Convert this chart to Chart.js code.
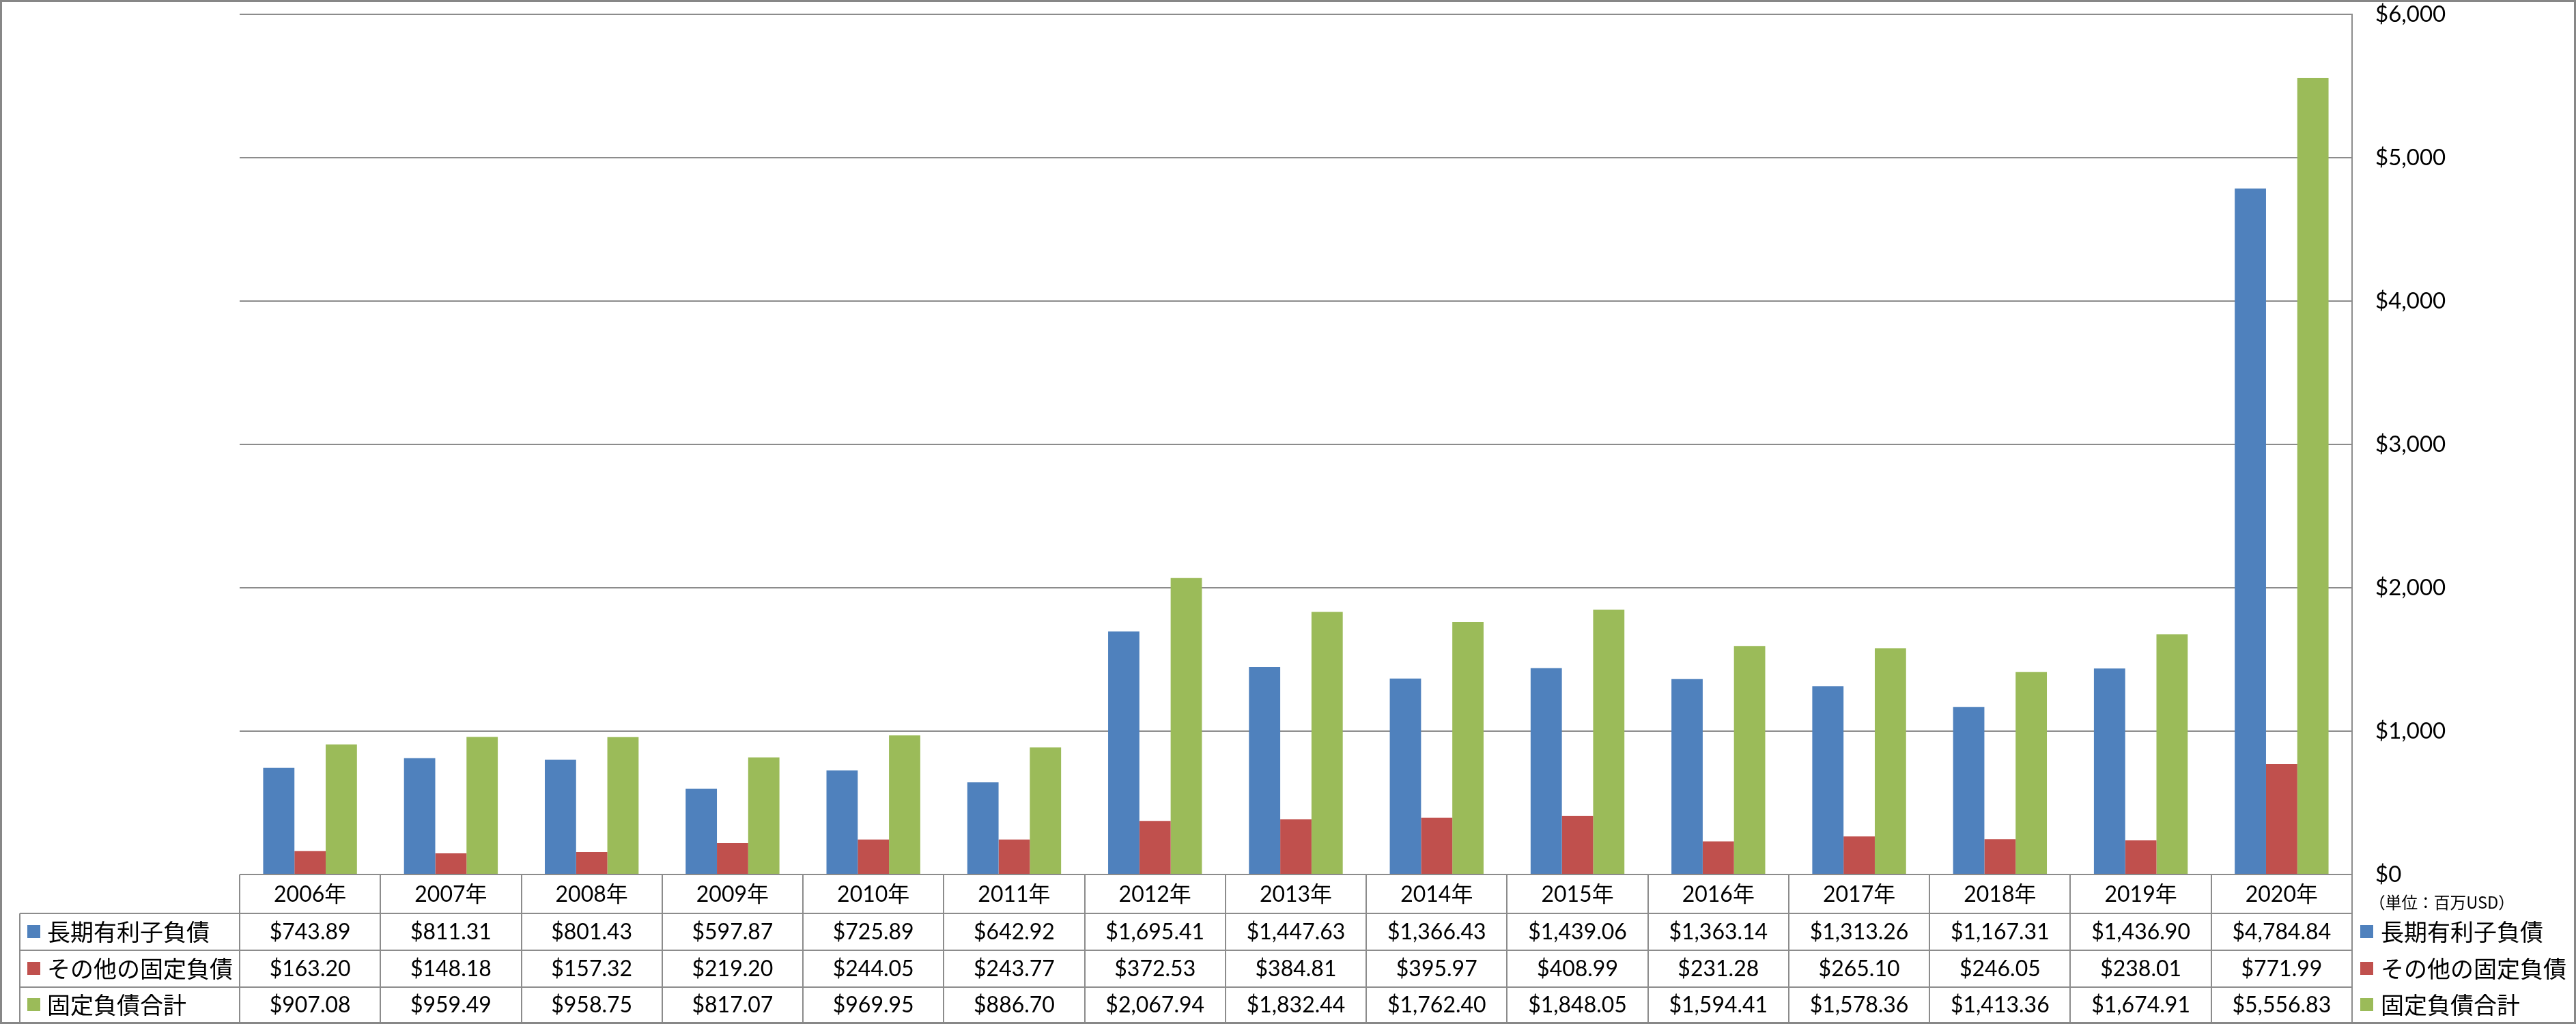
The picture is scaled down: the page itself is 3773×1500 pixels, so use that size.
<!DOCTYPE html>
<html>
<head>
<meta charset="utf-8">
<script src="https://cdn.jsdelivr.net/npm/chart.js@4/dist/chart.umd.min.js"></script>
<style>
  html, body { margin: 0; padding: 0; background: #fff; }
  #wrap { width: 3773px; height: 1500px; }
</style>
</head>
<body>
<div id="wrap"><canvas id="c" width="3773" height="1500"></canvas></div>
<script>
const categories = ['2006年','2007年','2008年','2009年','2010年','2011年','2012年','2013年','2014年','2015年','2016年','2017年','2018年','2019年','2020年'];
const seriesNames = ['長期有利子負債','その他の固定負債','固定負債合計'];
const longTermDebt = [743.89, 811.31, 801.43, 597.87, 725.89, 642.92, 1695.41, 1447.63, 1366.43, 1439.06, 1363.14, 1313.26, 1167.31, 1436.90, 4784.84];
const otherFixedLiab = [163.20, 148.18, 157.32, 219.20, 244.05, 243.77, 372.53, 384.81, 395.97, 408.99, 231.28, 265.10, 246.05, 238.01, 771.99];
const totalFixedLiab = [907.08, 959.49, 958.75, 817.07, 969.95, 886.70, 2067.94, 1832.44, 1762.40, 1848.05, 1594.41, 1578.36, 1413.36, 1674.91, 5556.83];
const yTicks = [0, 1000, 2000, 3000, 4000, 5000, 6000];
const unitLabel = '（単位：百万USD）';

const colors = ['#4F81BD', '#C0504D', '#9BBB59'];
const lineColor = '#8C8C8C';
const numFont = '32px Lato, "Noto Sans CJK JP"';
const jpFont = '34px "Noto Sans CJK JP"';

function fmt(v) {
  return '$' + v.toLocaleString('en-US', {minimumFractionDigits: 2, maximumFractionDigits: 2});
}

const tablePlugin = {
  id: 'tablePlugin',
  beforeDraw(chart) {
    const ctx = chart.ctx;
    ctx.save();
    ctx.fillStyle = '#fff';
    ctx.fillRect(0, 0, chart.width, chart.height);
    ctx.restore();
  },
  afterDraw(chart) {
    const ctx = chart.ctx;
    const ca = chart.chartArea;
    const n = categories.length;
    const colW = (ca.right - ca.left) / n;
    const rowTops = [ca.bottom, ca.bottom + 57, ca.bottom + 111, ca.bottom + 165];
    const tableBottom = 1498;
    const labelLeft = 29;
    const series = [longTermDebt, otherFixedLiab, totalFixedLiab];
    ctx.save();
    ctx.strokeStyle = lineColor;
    ctx.lineWidth = 2;
    ctx.beginPath();
    ctx.moveTo(ca.left, rowTops[0]); ctx.lineTo(ca.right, rowTops[0]);
    for (let r = 1; r < rowTops.length; r++) {
      ctx.moveTo(labelLeft, rowTops[r]); ctx.lineTo(ca.right, rowTops[r]);
    }
    ctx.moveTo(labelLeft, rowTops[1]); ctx.lineTo(labelLeft, tableBottom);
    for (let i = 0; i <= n; i++) {
      const x = Math.round(ca.left + i * colW);
      ctx.moveTo(x, rowTops[0]); ctx.lineTo(x, tableBottom);
    }
    ctx.moveTo(ca.right, ca.top); ctx.lineTo(ca.right, tableBottom);
    ctx.stroke();

    ctx.fillStyle = '#000';
    ctx.textBaseline = 'middle';
    ctx.textAlign = 'center';
    ctx.font = numFont;
    const xs = chart.scales.x;
    for (let i = 0; i < n; i++) {
      const cx = xs.getPixelForValue(i);
      ctx.fillText(categories[i], cx, (rowTops[0] + rowTops[1]) / 2 + 1);
    }
    for (let s = 0; s < 3; s++) {
      const top = rowTops[s + 1];
      const bot = s + 2 < rowTops.length ? rowTops[s + 2] : tableBottom;
      const cy = (top + bot) / 2;
      ctx.textAlign = 'center';
      ctx.font = numFont;
      ctx.fillStyle = '#000';
      for (let i = 0; i < n; i++) {
        ctx.fillText(fmt(series[s][i]), xs.getPixelForValue(i), cy + 1);
      }
      ctx.fillStyle = colors[s];
      ctx.fillRect(40, cy - 10, 19, 19);
      ctx.fillStyle = '#000';
      ctx.textAlign = 'left';
      ctx.font = jpFont;
      ctx.fillText(seriesNames[s], 69, cy);
      ctx.fillStyle = colors[s];
      ctx.fillRect(3457, cy - 10, 19, 19);
      ctx.fillStyle = '#000';
      ctx.fillText(seriesNames[s], 3487, cy);
    }
    // unit label, sized to span the same width as in the reference
    ctx.font = '24px "Noto Sans CJK JP"';
    const w = ctx.measureText(unitLabel).width || 213;
    const fs = Math.max(18, Math.min(30, 24 * 213 / w));
    ctx.font = fs.toFixed(1) + 'px "Noto Sans CJK JP"';
    ctx.textAlign = 'left';
    ctx.fillText(unitLabel, 3470, 1322);

    ctx.strokeStyle = '#878787';
    ctx.lineWidth = 3;
    ctx.strokeRect(1.5, 1.5, chart.width - 3, chart.height - 3);
    ctx.restore();
  }
};

new Chart(document.getElementById('c'), {
  type: 'bar',
  data: {
    labels: categories,
    datasets: [
      { label: seriesNames[0], data: longTermDebt, backgroundColor: colors[0] },
      { label: seriesNames[1], data: otherFixedLiab, backgroundColor: colors[1] },
      { label: seriesNames[2], data: totalFixedLiab, backgroundColor: colors[2] }
    ]
  },
  options: {
    responsive: false,
    animation: false,
    devicePixelRatio: 1,
    datasets: { bar: { categoryPercentage: 0.666, barPercentage: 1.0, borderWidth: 0 } },
    layout: { padding: { left: 351, top: 21, bottom: 219, right: 0 } },
    plugins: { legend: { display: false }, tooltip: { enabled: false } },
    scales: {
      x: { display: false },
      y: {
        position: 'right',
        min: 0, max: 6000,
        afterFit(scale) { scale.width = 328; scale.paddingTop = 0; scale.paddingBottom = 0; },
        afterBuildTicks(scale) { scale.ticks = yTicks.map(v => ({ value: v })); },
        ticks: {
          padding: 34,
          color: '#000',
          font: { family: 'Lato', size: 33 },
          callback: (v) => '$' + Number(v).toLocaleString('en-US')
        },
        grid: { color: lineColor, lineWidth: 2, drawTicks: false },
        border: { display: true, color: lineColor, width: 2 }
      }
    }
  },
  plugins: [tablePlugin]
});
</script>
</body>
</html>
